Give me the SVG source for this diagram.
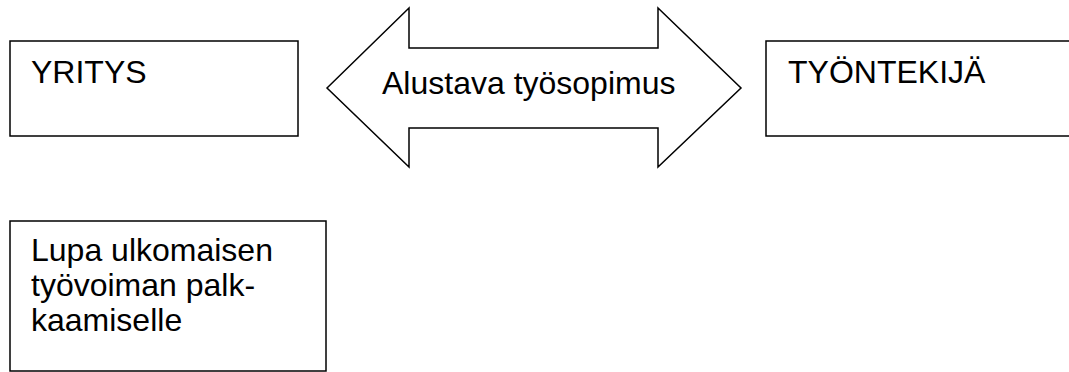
<svg xmlns="http://www.w3.org/2000/svg" width="1069" height="372" viewBox="0 0 1069 372">
<style>
.box{fill:#fff;stroke:#000;stroke-width:1.5}
.t{font-family:"Liberation Sans",Arial,sans-serif;font-size:32px;fill:#000}
</style>
<rect width="1069" height="372" fill="#fff"/>
<g id="yritys">
<rect class="box" x="10" y="41" width="288" height="95"/>
<text class="t" x="31" y="83">YRITYS</text>
</g>
<g id="tyontekija">
<rect class="box" x="766" y="41" width="310" height="95"/>
<text class="t" x="788" y="83">TYÖNTEKIJÄ</text>
</g>
<g id="sopimus">
<polygon class="box" points="327,88 409,8 409,48 658,48 658,8 741,88 658,167 658,128 409,128 409,167"/>
<text class="t" x="382" y="94">Alustava työsopimus</text>
</g>
<g id="lupa">
<rect class="box" x="10" y="221" width="316" height="150"/>
<text class="t" x="31" y="261">Lupa ulkomaisen</text>
<text class="t" x="31" y="296">työvoiman palk-</text>
<text class="t" x="31" y="331">kaamiselle</text>
</g>
<g id="connectors"></g>
</svg>
